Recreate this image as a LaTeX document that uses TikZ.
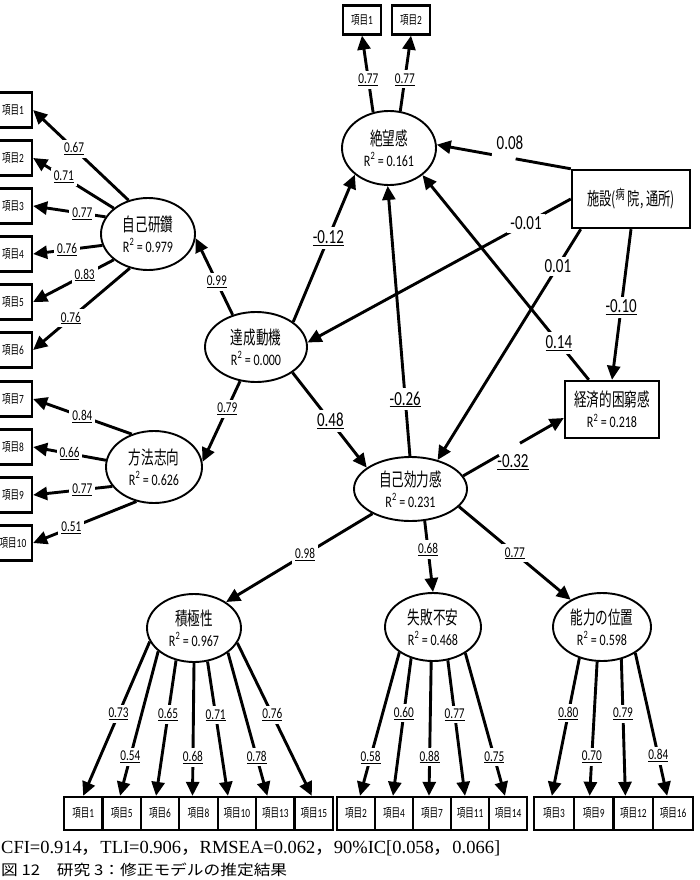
\documentclass[tikz,border=0pt]{standalone}
\usepackage{fontspec}
\usepackage{graphicx}
\usetikzlibrary{arrows.meta,shapes.geometric,calc}
\setmainfont[FakeStretch=0.75]{Carlito}
\newfontfamily\jp[FakeStretch=0.68]{Noto Sans CJK JP}
\newfontfamily\jpn{Noto Sans CJK JP}
\newfontfamily\serifn{Liberation Serif}
\newcommand{\lvtext}[2]{{\jp\fontsize{18.5}{21}\selectfont #1}\\{\fontsize{16}{21}\selectfont R\textsuperscript{2} = #2}}
\newcommand{\itm}[1]{{\jp\fontsize{12.5}{13}\selectfont 項目}{\fontsize{12.5}{13}\selectfont #1}}
\tikzset{
  lat/.style={ellipse, draw, line width=1.9pt, inner sep=0pt, align=center, font=\fontsize{16}{21}\selectfont},
  obs/.style={rectangle, draw, line width=2.4pt, inner sep=0pt, align=center, font=\fontsize{16}{21}\selectfont},
  item/.style={rectangle, draw, line width=2.3pt, inner sep=0pt},
  conn/.style={line width=2.9pt, -{Triangle[length=14pt,width=13pt]}},
  lbl/.style={fill=white, inner sep=3pt, font=\fontsize{15}{15}\selectfont},
  blbl/.style={fill=white, inner sep=3pt, font=\fontsize{20}{20}\selectfont},
  gapn/.style={fill=white, inner sep=0pt, minimum width=24pt, minimum height=6pt, sloped},
}
\begin{document}
\begin{tikzpicture}[x=1pt,y=-1pt]
\useasboundingbox (0,0) rectangle (699,880);
\clip (0,0) rectangle (699,880);

% latent variables
\node[lat, minimum width=94pt, minimum height=74pt] (zk) at (389,148) {\lvtext{絶望感}{0.161}};
\node[lat, minimum width=94pt, minimum height=72pt] (jk) at (148,234) {\lvtext{自己研鑽}{0.979}};
\node[lat, minimum width=102pt, minimum height=70pt] (td) at (256,347) {\lvtext{達成動機}{0.000}};
\node[lat, minimum width=96pt, minimum height=72pt] (hs) at (154,467) {\lvtext{方法志向}{0.626}};
\node[lat, minimum width=113pt, minimum height=64pt] (jkr) at (410.5,489) {\lvtext{自己効力感}{0.231}};
\node[lat, minimum width=94pt, minimum height=68pt] (sk) at (194,628) {\lvtext{積極性}{0.967}};
\node[lat, minimum width=96pt, minimum height=68pt] (sf) at (433,627) {\lvtext{失敗不安}{0.468}};
\node[lat, minimum width=98pt, minimum height=68pt] (nr) at (602,627) {\lvtext{能力の位置}{0.598}};

% observed boxes
\node[obs, minimum width=118pt, minimum height=58pt] (sh) at (631,199)
  {{\jp\fontsize{18}{21}\selectfont 施設(\raisebox{6pt}{\fontsize{13.5}{13}\selectfont 病}\,院, 通所)}};
\node[obs, minimum width=94pt, minimum height=57pt] (ke) at (612,409.5) {\lvtext{経済的困窮感}{0.218}};

% top items
\node[item, minimum width=38pt, minimum height=29pt] (t1) at (362,20) {\itm{1}};
\node[item, minimum width=38pt, minimum height=29pt] (t2) at (411,20) {\itm{2}};

% left items
\foreach \i/\yy in {1/110,2/158,3/206,4/254,5/302,6/350,7/399,8/447,9/495,10/543}
  \node[item, minimum width=38pt, minimum height=35pt] (L\i) at (13,\yy) {\itm{\i}};

% bottom items
\foreach \n [count=\k] in {1,5,6,8,10,13,15}
  \node[item, minimum width=38.43pt, minimum height=33pt] (A\n) at ({64+38.43*(\k-0.5)},813.5) {\itm{\n}};
\foreach \n [count=\k] in {2,4,7,11,14}
  \node[item, minimum width=38pt, minimum height=33pt] (F\n) at ({337+38*(\k-0.5)},813.5) {\itm{\n}};
\foreach \n [count=\k] in {3,9,12,16}
  \node[item, minimum width=39.75pt, minimum height=33pt] (N\n) at ({534+39.75*(\k-0.5)},813.5) {\itm{\n}};

% 自己研鑽 loadings
\draw[conn] (jk.120) -- node[lbl,pos=0.57]{\underline{0.67}} (L1.east);
\draw[conn] (jk.143) -- node[lbl,pos=0.62]{\underline{0.71}} (L2.east);
\draw[conn] (jk.158) -- node[lbl,pos=0.32]{\underline{0.77}} (L3.east);
\draw[conn] (jk.194) -- node[lbl,pos=0.51]{\underline{0.76}} (L4.east);
\draw[conn] (jk.217) -- node[lbl,pos=0.36]{\underline{0.83}} (L5.east);
\draw[conn] (jk.242) -- node[lbl,pos=0.61]{\underline{0.76}} (L6.east);

% 方法志向 loadings
\draw[conn] (hs.124) -- node[lbl,pos=0.5]{\underline{0.84}} (L7.east);
\draw[conn] (hs.172) -- node[lbl,pos=0.5]{\underline{0.66}} (L8.east);
\draw[conn] (hs.205) -- node[lbl,pos=0.38]{\underline{0.77}} (L9.east);
\draw[conn] (hs.243) -- node[lbl,pos=0.63]{\underline{0.51}} (L10.east);

% 達成動機 paths
\draw[conn] (td.126) -- node[lbl,pos=0.43]{\underline{0.99}} (jk.355);
\draw[conn] (td.245) -- node[lbl,pos=0.34]{\underline{0.79}} (hs.6);
\draw[conn] (td.34) -- node[blbl,pos=0.57]{\underline{-0.12}} (zk.218);
\draw[conn] (td.325) -- node[blbl,pos=0.51]{\underline{0.48}} (jkr.154);

% 絶望感 items
\draw[conn] (zk.114) -- node[lbl,pos=0.42]{\underline{0.77}} (t1.south);
\draw[conn] (zk.73) -- node[lbl,pos=0.42]{\underline{0.77}} (t2.south);

% structural paths
\draw[conn] (jkr.91) -- node[blbl,pos=0.21]{\underline{-0.26}} (zk.268);
\draw[conn] (sh.north west) -- node[gapn,pos=0.5]{} (zk.4);
\node[blbl, fill=none] (l008) at (510,143) {0.08};
\draw[conn] (sh.west) -- node[blbl,pos=0.17]{-0.01} (td.5);
\draw[conn] (sh.211) -- node[blbl,pos=0.16]{0.01} (jkr.47);
\draw[conn] (sh.south) -- node[blbl,pos=0.52]{\underline{-0.10}} (ke.north);
\draw[conn] (ke.128) -- node[blbl,pos=0.18]{\underline{0.14}} (zk.321);
\draw[conn] (jkr.14) -- node[gapn,pos=0.46]{} (ke.190);
\node[blbl, fill=none] (l032) at (513,462) {\underline{-0.32}};

% 自己効力感 to its factors
\draw[conn] (jkr.213) -- node[lbl,pos=0.46]{\underline{0.98}} (sk.39.5);
\draw[conn] (jkr.294) -- node[lbl,pos=0.40]{\underline{0.68}} (sf.north);
\draw[conn] (jkr.340) -- node[lbl,pos=0.50]{\underline{0.77}} (nr.139.5);

% 積極性 loadings
\draw[conn] (sk.197) -- node[lbl,pos=0.47]{\underline{0.73}} (A1.north);
\draw[conn] (sk.213) -- node[lbl,pos=0.73]{\underline{0.54}} ([xshift=-1.6pt]A5.north);
\draw[conn] (sk.241) -- node[lbl,pos=0.40]{\underline{0.65}} ([xshift=-4pt]A6.north);
\draw[conn] (sk.270) -- node[lbl,pos=0.71]{\underline{0.68}} ([xshift=-6pt]A8.north);
\draw[conn] (sk.292) -- node[lbl,pos=0.40]{\underline{0.71}} ([xshift=-9pt]A10.north);
\draw[conn] (sk.324) -- node[lbl,pos=0.73]{\underline{0.78}} ([xshift=-8pt]A13.north);
\draw[conn] (sk.341) -- node[lbl,pos=0.47]{\underline{0.76}} ([xshift=-2pt]A15.north);

% 失敗不安 loadings
\draw[conn] (sf.217) -- node[lbl,pos=0.73]{\underline{0.58}} ([xshift=4pt]F2.north);
\draw[conn] (sf.235) -- node[lbl,pos=0.40]{\underline{0.60}} ([xshift=-1pt]F4.north);
\draw[conn] (sf.267) -- node[lbl,pos=0.71]{\underline{0.88}} ([xshift=-3pt]F7.north);
\draw[conn] (sf.294) -- node[lbl,pos=0.40]{\underline{0.77}} ([xshift=-5pt]F11.north);
\draw[conn] (sf.321) -- node[lbl,pos=0.73]{\underline{0.75}} ([xshift=-3pt]F14.north);

% 能力の位置 loadings
\draw[conn] (nr.234) -- node[lbl,pos=0.40]{\underline{0.80}} ([xshift=-2pt]N3.north);
\draw[conn] (nr.262) -- node[lbl,pos=0.71]{\underline{0.70}} ([xshift=-4pt]N9.north);
\draw[conn] (nr.301) -- node[lbl,pos=0.40]{\underline{0.79}} ([xshift=-8pt]N12.north);
\draw[conn] (nr.322) -- node[lbl,pos=0.72]{\underline{0.84}} ([xshift=-6pt]N16.north);

% footnote and caption
\node[anchor=base west, inner sep=0pt] (fit) at (1,853)
  {\resizebox{499pt}{!}{\serifn\fontsize{18}{18}\selectfont CFI=0.914{\jpn ，}TLI=0.906{\jpn ，}RMSEA=0.062{\jpn ，}90\%IC[0.058{\jpn ，}0.066]}};
\node[anchor=base west, inner sep=0pt] (cap) at (1,875)
  {\resizebox{286pt}{12.5pt}{\jpn\fontsize{17}{17}\selectfont 図 12　研究 3：修正モデルの推定結果}};
\end{tikzpicture}
\end{document}
